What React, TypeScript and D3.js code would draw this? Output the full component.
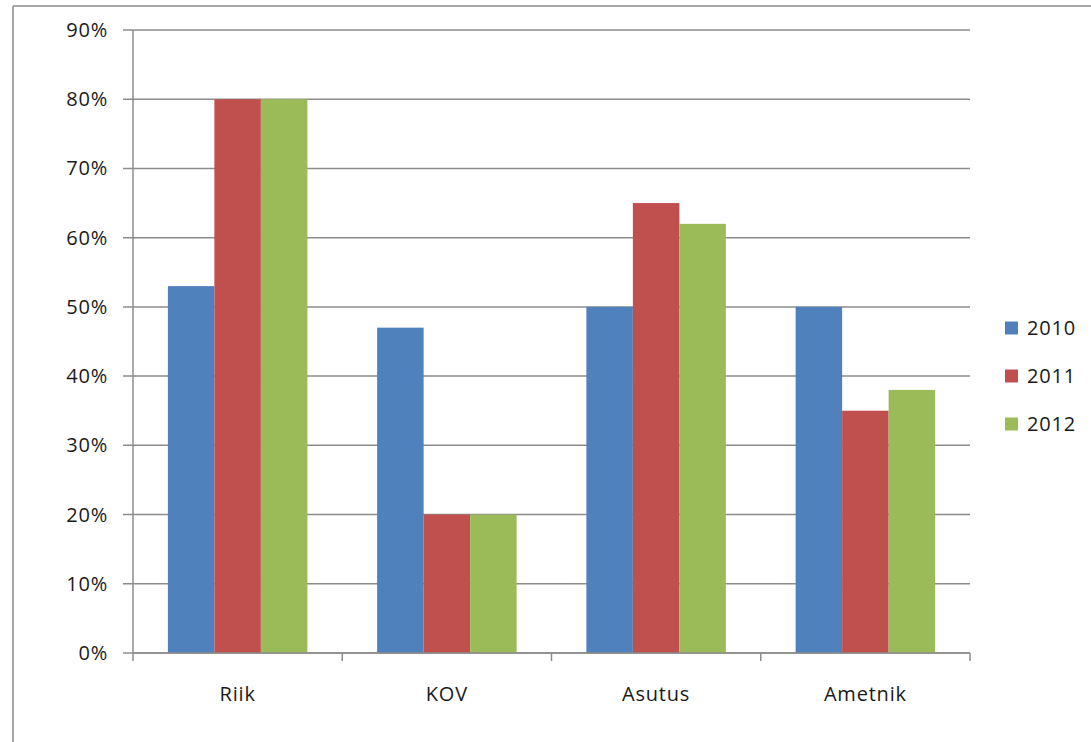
import React from "react";
import * as d3 from "d3";

const categories = ["Riik", "KOV", "Asutus", "Ametnik"];
const seriesNames = ["2010", "2011", "2012"];
const values2010 = [0.53, 0.47, 0.5, 0.5];
const values2011 = [0.8, 0.2, 0.65, 0.35];
const values2012 = [0.8, 0.2, 0.62, 0.38];
const yTicks = [0, 0.1, 0.2, 0.3, 0.4, 0.5, 0.6, 0.7, 0.8, 0.9];
const colors = ["#4F81BD", "#C0504D", "#9BBB59"];

const W = 1091;
const H = 742;
const left = 133;
const right = 970;
const top = 30;
const bottom = 653;
const font = "'Open Sans', 'Liberation Sans', sans-serif";
const fs = 20;
const ls = 0.8;

export default function App() {
  const series = [values2010, values2011, values2012];
  const y = d3.scaleLinear().domain([0, 0.9]).range([bottom, top]);
  const x0 = d3.scaleBand<string>().domain(categories).range([left, right]).paddingInner(0).paddingOuter(0);
  const bw = x0.bandwidth();
  const barW = bw / 4.5;
  const x1 = d3
    .scaleBand<string>()
    .domain(seriesNames)
    .range([bw * 0.75 / 4.5, bw * 0.75 / 4.5 + 3 * barW]);
  const fmt = d3.format(".0%");
  const gridColor = "#8c8c8c";
  return (
    <svg width={W} height={H} style={{ position: "absolute", left: 0, top: 0, background: "#fff" }}>
      <rect x={0} y={0} width={W} height={H} fill="#fff" />
      <line x1={13} y1={6} x2={W} y2={6} stroke="#a6a6a6" strokeWidth={2} />
      <line x1={13} y1={6} x2={13} y2={H} stroke="#a6a6a6" strokeWidth={2} />
      {yTicks.map((t) => (
        <g key={t}>
          <line x1={left - 10} x2={right} y1={y(t)} y2={y(t)} stroke={gridColor} strokeWidth={1.5} />
          <text
            x={108}
            y={y(t)}
            dy="0.35em"
            textAnchor="end"
            fontFamily={font}
            fontSize={fs}
            letterSpacing={ls}
            fill="#1a1a1a"
          >
            {fmt(t)}
          </text>
        </g>
      ))}
      {categories.map((c, i) => (
        <g key={c} transform={`translate(${x0(c)},0)`}>
          {series.map((s, j) => (
            <rect
              key={j}
              x={x1(seriesNames[j])}
              y={y(s[i])}
              width={x1.bandwidth()}
              height={bottom - y(s[i])}
              fill={colors[j]}
            />
          ))}
          <text
            x={bw / 2}
            y={694}
            dy="0.35em"
            textAnchor="middle"
            fontFamily={font}
            fontSize={fs}
            letterSpacing={ls}
            fill="#1a1a1a"
          >
            {c}
          </text>
        </g>
      ))}
      <line x1={left} x2={left} y1={top} y2={bottom + 8} stroke={gridColor} strokeWidth={1.5} />
      <line x1={left} x2={right} y1={bottom} y2={bottom} stroke={gridColor} strokeWidth={1.5} />
      {categories.map((c, i) => (
        <line
          key={c}
          x1={(x0(c) as number) + bw}
          x2={(x0(c) as number) + bw}
          y1={bottom}
          y2={bottom + 8}
          stroke={gridColor}
          strokeWidth={1.5}
        />
      ))}
      {seriesNames.map((n, j) => (
        <g key={n} transform={`translate(1005, ${328 + j * 48})`}>
          <rect x={0} y={-6.5} width={13} height={13} fill={colors[j]} />
          <text x={22} y={0} dy="0.35em" fontFamily={font} fontSize={fs} letterSpacing={ls} fill="#1a1a1a">
            {n}
          </text>
        </g>
      ))}
    </svg>
  );
}
